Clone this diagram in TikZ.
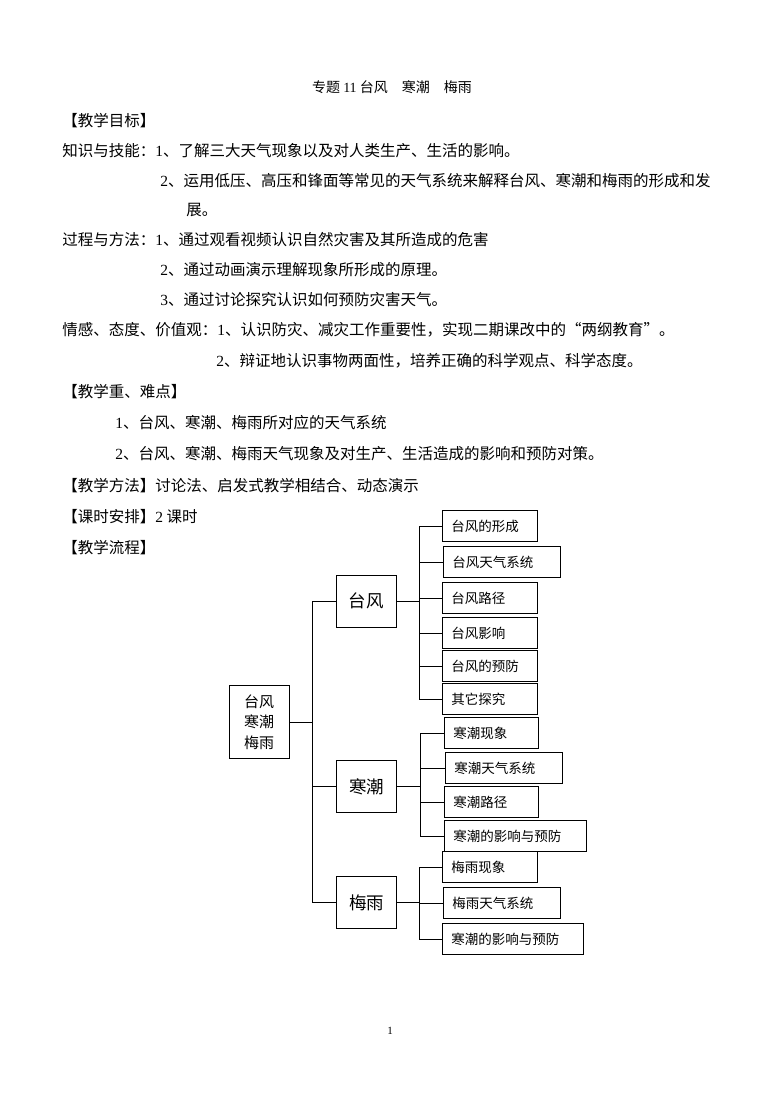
\documentclass[tikz,border=0pt]{standalone}
\usepackage{fontspec}
\setmainfont{Noto Sans CJK SC}
\newfontfamily\latin{Liberation Serif}
\newcommand\shu[1]{{\latin #1}}
\tikzset{
  zeile/.style={anchor=west, inner sep=0pt, font=\fontsize{15.5}{18}\selectfont},
  kid/.style={draw, anchor=west, text width=#1, minimum height=31pt,
    inner xsep=9pt, inner ysep=0pt, font=\fontsize{13.5}{16}\selectfont},
  kid/.default=77pt,
  mid/.style={draw, minimum width=60pt, minimum height=52pt, inner sep=0pt,
    font=\fontsize{17.5}{20}\selectfont},
}
\begin{document}
\begin{tikzpicture}[x=1pt, y=-1pt, line width=0.8pt]
  \useasboundingbox (0,0) rectangle (780,1103);
  % 标题
  \node[inner sep=0pt, font=\fontsize{14}{16}\selectfont] (titel) at (392,87) {专题 \shu{11} 台风　寒潮　梅雨};
  % 教学目标
  \node[zeile] (mb) at (62,121) {【教学目标】};
  \node[zeile] (zs1) at (62,151) {知识与技能：\shu{1}、了解三大天气现象以及对人类生产、生活的影响。};
  \node[zeile] (zs2) at (160,181) {\shu{2}、运用低压、高压和锋面等常见的天气系统来解释台风、寒潮和梅雨的形成和发};
  \node[zeile] (zs3) at (186,210) {展。};
  \node[zeile] (gc1) at (62,240) {过程与方法：\shu{1}、通过观看视频认识自然灾害及其所造成的危害};
  \node[zeile] (gc2) at (160,270) {\shu{2}、通过动画演示理解现象所形成的原理。};
  \node[zeile] (gc3) at (160,300) {\shu{3}、通过讨论探究认识如何预防灾害天气。};
  \node[zeile] (qg1) at (62,330) {情感、态度、价值观：\shu{1}、认识防灾、减灾工作重要性，实现二期课改中的“两纲教育”。};
  \node[zeile] (qg2) at (216,361) {\shu{2}、辩证地认识事物两面性，培养正确的科学观点、科学态度。};
  % 重难点, 方法, 安排
  \node[zeile] (zd) at (62,392) {【教学重、难点】};
  \node[zeile] (zd1) at (115,423) {\shu{1}、台风、寒潮、梅雨所对应的天气系统};
  \node[zeile] (zd2) at (115,454) {\shu{2}、台风、寒潮、梅雨天气现象及对生产、生活造成的影响和预防对策。};
  \node[zeile] (ff) at (62,486) {【教学方法】讨论法、启发式教学相结合、动态演示};
  \node[zeile] (ap) at (62,517) {【课时安排】\shu{2} 课时};
  \node[zeile] (lc) at (62,548) {【教学流程】};
  % 流程图
  \node[draw, minimum width=60pt, minimum height=73pt, inner sep=0pt, align=center,
    font=\fontsize{15}{20.5}\selectfont] (wurzel) at (259,722) {台风\\寒潮\\梅雨};
  \node[mid] (tf) at (366,601) {台风};
  \node[mid] (hc) at (366.5,786.5) {寒潮};
  \node[mid] (my) at (366.5,902.5) {梅雨};
  % 台风
  \node[kid] (t1) at (442,526) {台风的形成};
  \node[kid=99pt] (t2) at (443,562) {台风天气系统};
  \node[kid] (t3) at (442,598) {台风路径};
  \node[kid] (t4) at (442,633) {台风影响};
  \node[kid] (t5) at (442,666) {台风的预防};
  \node[kid] (t6) at (442,699) {其它探究};
  % 寒潮
  \node[kid=76pt] (h1) at (444,733) {寒潮现象};
  \node[kid=99pt] (h2) at (445,768) {寒潮天气系统};
  \node[kid=76pt] (h3) at (444,802) {寒潮路径};
  \node[kid=124pt] (h4) at (444,836) {寒潮的影响与预防};
  % 梅雨
  \node[kid] (m1) at (442,867) {梅雨现象};
  \node[kid=99pt] (m2) at (443,903) {梅雨天气系统};
  \node[kid=123pt] (m3) at (442,939) {寒潮的影响与预防};
  % 分支点
  \coordinate (stamm) at (312.5,0);
  \coordinate (tfbus) at (419,0);
  \coordinate (hcbus) at (420,0);
  \coordinate (mybus) at (419,0);
  % 连线
  \draw (wurzel.east) -- (wurzel.east -| stamm);
  \draw (stamm |- tf.west) -- (stamm |- my.west);
  \draw (stamm |- tf.west) -- (tf.west);
  \draw (stamm |- hc.west) -- (hc.west);
  \draw (stamm |- my.west) -- (my.west);
  \draw (tf.east) -- (tf.east -| tfbus);
  \draw (tfbus |- t1.west) -- (tfbus |- t6.west);
  \draw (tfbus |- t1.west) -- (t1.west);
  \draw (tfbus |- t2.west) -- (t2.west);
  \draw (tfbus |- t3.west) -- (t3.west);
  \draw (tfbus |- t4.west) -- (t4.west);
  \draw (tfbus |- t5.west) -- (t5.west);
  \draw (tfbus |- t6.west) -- (t6.west);
  \draw (hc.east) -- (hc.east -| hcbus);
  \draw (hcbus |- h1.west) -- (hcbus |- h4.west);
  \draw (hcbus |- h1.west) -- (h1.west);
  \draw (hcbus |- h2.west) -- (h2.west);
  \draw (hcbus |- h3.west) -- (h3.west);
  \draw (hcbus |- h4.west) -- (h4.west);
  \draw (my.east) -- (my.east -| mybus);
  \draw (mybus |- m1.west) -- (mybus |- m3.west);
  \draw (mybus |- m1.west) -- (m1.west);
  \draw (mybus |- m2.west) -- (m2.west);
  \draw (mybus |- m3.west) -- (m3.west);
  % 页码
  \node[inner sep=0pt, font=\latin\fontsize{11}{12}\selectfont] (seite) at (390,1031) {1};
\end{tikzpicture}
\end{document}
